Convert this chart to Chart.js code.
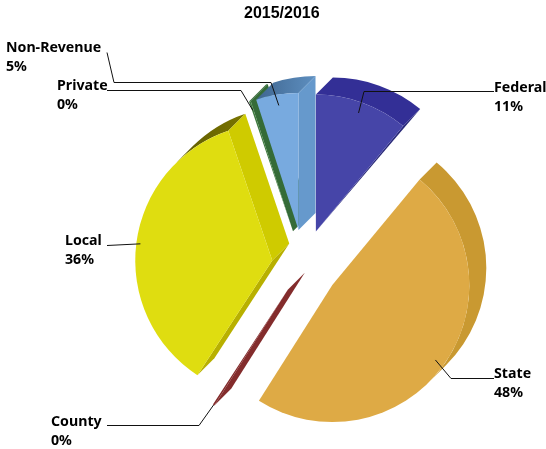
<!DOCTYPE html>
<html>
<head>
<meta charset="utf-8">
<title>2015/2016</title>
<script src="https://cdn.jsdelivr.net/npm/chart.js@4"></script>
<style>
  html, body { margin: 0; padding: 0; background: #fff; }
  canvas { display: block; }
</style>
</head>
<body>
<canvas id="revenueChart" width="546" height="449"></canvas>
<script>
    const chartTitle = '2015/2016';
    const categories = ['Federal', 'State', 'County', 'Local', 'Private', 'Non-Revenue'];
    const shares = [11, 48, 0.2, 35.6, 0.2, 5];

    // Colours: front face, outer wall (left/right of gradient), radial walls
    const faceColors = ['#4645a8', '#deaa45', '#832c2c', '#dfdd10', '#3f7a3f', '#78aadf'];
    const arcWallFrom = ['#332f96', '#c99931', '#832c2c', '#5f5a00', '#2f5f30', '#3f6690'];
    const arcWallTo = ['#332f96', '#c99931', '#832c2c', '#7a7500', '#356b37', '#5e8fc0'];
    const startWallColors = ['#2a2a7a', '#c99931', '#832c2c', '#b8b000', '#356b37', '#6699cc'];
    const endWallColors = ['#2a2a7a', '#c99931', '#832c2c', '#cfcb00', '#356b37', '#6699cc'];

    // Label placement: text left edge, first line middle, elbow points of the leader
    const labelX = [494, 494, 51, 65, 57, 6];
    const labelY = [88, 374, 422, 241, 86, 48];
    const leaderEnd = [[494, 91], [494, 378], [107, 425], [107, 245], [107, 90], [107, 52]];
    const leaderElbows = [[[364, 91]], [[451, 378]], [[199, 425]], [], [[241, 90]], [[271, 82], [114, 82]]];
    const leaderReach = [0.92, 0.93, 1, 0.97, 0.93, 0.92];

    const explodeBy = [35, 35, 30, 32, 35, 35];
    const DEPTH_X = 17;
    const DEPTH_Y = -17;

    // Push each slice out along its middle angle (arc offset also grows the radius)
    const explodePlugin = {
        id: 'explode',
        afterDatasetsUpdate(chart) {
            chart.getDatasetMeta(0).data.forEach((arc, i) => {
                const mid = (arc.startAngle + arc.endAngle) / 2;
                arc.x += Math.cos(mid) * explodeBy[i];
                arc.y += Math.sin(mid) * explodeBy[i];
            });
        }
    };

    function fillRadialWall(ctx, arc, angle, color, facing) {
        const px = arc.x + Math.cos(angle) * arc.outerRadius;
        const py = arc.y + Math.sin(angle) * arc.outerRadius;
        ctx.fillStyle = color;
        ctx.beginPath();
        ctx.moveTo(arc.x, arc.y);
        ctx.lineTo(px, py);
        ctx.lineTo(px + DEPTH_X, py + DEPTH_Y);
        // barely visible walls close to a wedge so the edge stays straight
        if (facing > 3) ctx.lineTo(arc.x + DEPTH_X, arc.y + DEPTH_Y);
        ctx.closePath();
        ctx.fill();
    }

    function fillArcWall(ctx, arc, i) {
        // Only the part of the rim that faces the depth direction shows
        const ranges = [[-0.75 * Math.PI, 0.25 * Math.PI], [1.25 * Math.PI, 1.5 * Math.PI]];
        ranges.forEach(range => {
            const a0 = Math.max(arc.startAngle, range[0]);
            const a1 = Math.min(arc.endAngle, range[1]);
            if (a1 <= a0) return;
            const x0 = arc.x + Math.cos(a0) * arc.outerRadius;
            const x1 = arc.x + Math.cos(a1) * arc.outerRadius;
            const grad = ctx.createLinearGradient(x0, 0, x1 + DEPTH_X, 0);
            grad.addColorStop(0, arcWallFrom[i]);
            grad.addColorStop(1, arcWallTo[i]);
            ctx.fillStyle = grad;
            ctx.beginPath();
            ctx.arc(arc.x, arc.y, arc.outerRadius, a0, a1);
            ctx.arc(arc.x + DEPTH_X, arc.y + DEPTH_Y, arc.outerRadius, a1, a0, true);
            ctx.closePath();
            ctx.fill();
        });
    }

    const depthPlugin = {
        id: 'depth',
        beforeDatasetsDraw(chart) {
            const ctx = chart.ctx;
            ctx.save();
            chart.getDatasetMeta(0).data.forEach((arc, i) => {
                fillArcWall(ctx, arc, i);
                // outward normals of the two radial edges against the depth direction
                const s = arc.startAngle, e = arc.endAngle;
                const startFacing = Math.sin(s) * DEPTH_X - Math.cos(s) * DEPTH_Y;
                const endFacing = -Math.sin(e) * DEPTH_X + Math.cos(e) * DEPTH_Y;
                if (startFacing > 0) fillRadialWall(ctx, arc, s, startWallColors[i], startFacing);
                if (endFacing > 0) fillRadialWall(ctx, arc, e, endWallColors[i], endFacing);
            });
            ctx.restore();
        }
    };

    const labelPlugin = {
        id: 'sliceLabels',
        afterDatasetsDraw(chart) {
            const ctx = chart.ctx;
            const total = shares.reduce((a, b) => a + b, 0);
            ctx.save();

            ctx.fillStyle = '#000';
            ctx.textBaseline = 'middle';
            ctx.textAlign = 'left';
            ctx.font = 'bold 16px "Liberation Sans"';
            ctx.fillText(chartTitle, 244, 14);

            chart.getDatasetMeta(0).data.forEach((arc, i) => {
                const mid = (arc.startAngle + arc.endAngle) / 2;
                ctx.strokeStyle = '#111';
                ctx.lineWidth = 1;
                ctx.beginPath();
                ctx.moveTo(arc.x + Math.cos(mid) * arc.outerRadius * leaderReach[i],
                    arc.y + Math.sin(mid) * arc.outerRadius * leaderReach[i]);
                leaderElbows[i].forEach(p => ctx.lineTo(p[0], p[1] + 0.5));
                ctx.lineTo(leaderEnd[i][0], leaderEnd[i][1] + 0.5);
                ctx.stroke();

                ctx.font = 'bold 14.2px "Noto Sans"';
                ctx.fillText(categories[i], labelX[i], labelY[i]);
                ctx.fillText(Math.round(shares[i] / total * 100) + '%', labelX[i], labelY[i] + 19);
            });
            ctx.restore();
        }
    };

    new Chart(document.getElementById('revenueChart').getContext('2d'), {
        type: 'pie',
        data: {
            labels: categories,
            datasets: [{
                data: shares,
                backgroundColor: faceColors,
                borderWidth: 0,
                radius: 137
            }]
        },
        options: {
            responsive: false,
            animation: false,
            events: [],
            layout: { padding: { left: 62, top: 80 } },
            plugins: {
                legend: { display: false },
                tooltip: { enabled: false }
            }
        },
        plugins: [explodePlugin, depthPlugin, labelPlugin]
    });
</script>
</body>
</html>
